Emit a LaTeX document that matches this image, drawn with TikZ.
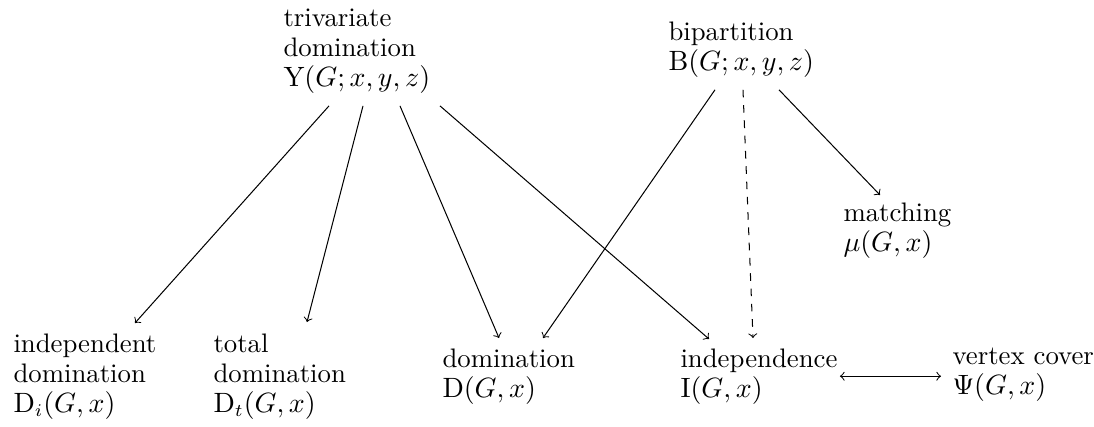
\documentclass[tikz,border=0pt]{standalone}
\usetikzlibrary{calc}
\begin{document}
\begin{tikzpicture}[x=0.39216pt,y=-0.39216pt,
  lbl/.style={inner sep=0pt, anchor=north west, align=left, font=\fontsize{10.5}{11.8}\selectfont},
  arr/.style={->}]
\useasboundingbox (0,0) rectangle (1094,426);
% nodes (positions in px, y downward)
\node[lbl] (Y) at (283,4.6) {\strut trivariate\\\strut domination\\\strut $\mathrm{Y}(G;x,y,z)$};
\node[lbl] (B) at (668,18.6) {\strut bipartition\\\strut $\mathrm{B}(G;x,y,z)$};
\node[lbl] (M) at (843,199.6) {\strut matching\\\strut $\mu(G,x)$};
\node[lbl] (Di) at (13,330.6) {\strut independent\\\strut domination\\\strut $\mathrm{D}_i(G,x)$};
\node[lbl] (Dt) at (213,330.6) {\strut total\\\strut domination\\\strut $\mathrm{D}_t(G,x)$};
\node[lbl] (D) at (442,345.6) {\strut domination\\\strut $\mathrm{D}(G,x)$};
\node[lbl] (I) at (680,345.6) {\strut independence\\\strut $\mathrm{I}(G,x)$};
\node[lbl] (V) at (952,342.6) {\strut vertex cover\\\strut $\Psi(G,x)$};
% connectors
\draw[arr] ($(Y.south west)+(46,10)$) -- ($(Di.north west)+(122,-7.6)$);
\draw[arr] ($(Y.south west)+(80,10)$) -- ($(Dt.north west)+(94,-8.6)$);
\draw[arr] ($(Y.south west)+(117,10)$) -- ($(D.north west)+(57,-7.6)$);
\draw[arr] ($(Y.south west)+(157,10)$) -- ($(I.north west)+(29,-6.6)$);
\draw[arr] ($(B.south west)+(47,10)$) -- ($(D.north west)+(101,-7.6)$);
\draw[arr,dashed] ($(B.south west)+(75,10)$) -- ($(I.north west)+(73,-7.6)$);
\draw[arr] ($(B.south west)+(111,10)$) -- ($(M.north west)+(37,-4.6)$);
\draw[<->] ($(I.east)+(2,0)$) -- ($(I.east -| V.west)+(-11,0)$);
\end{tikzpicture}
\end{document}
